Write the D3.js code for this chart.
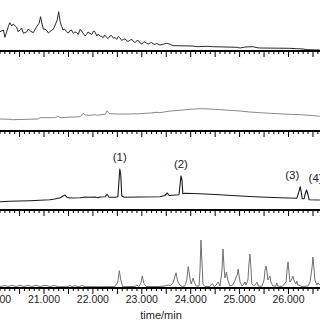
<!DOCTYPE html>
<html>
<head>
<meta charset="utf-8">
<script src="https://cdn.jsdelivr.net/npm/d3@7"></script>
<style>
  html, body { margin: 0; padding: 0; background: #fff; }
  svg { display: block; font-family: "Liberation Sans", Arial, sans-serif; }
</style>
</head>
<body>
<svg id="chart"></svg>
<script>
const width = 320;
const height = 320;

// retention time (min), relative abundance
const trace1 = [
  [20.10, 38.6], [20.17, 42], [20.20, 27.4], [20.27, 48.6], [20.30, 56.6], [20.34, 50], [20.37, 54],
  [20.44, 47.4], [20.47, 38.6], [20.51, 42], [20.54, 46], [20.58, 35.4], [20.65, 38.6], [20.68, 44],
  [20.71, 40.6], [20.78, 36.6], [20.81, 42], [20.85, 48.6], [20.90, 55.4], [20.93, 68.6], [20.96, 54],
  [20.99, 43.4], [21.02, 44], [21.06, 40.6], [21.09, 36], [21.12, 38.6], [21.16, 42], [21.19, 43.4],
  [21.22, 50], [21.27, 62], [21.30, 78.6], [21.33, 58.6], [21.35, 52], [21.39, 42], [21.42, 44],
  [21.46, 38.6], [21.50, 36], [21.53, 40.6], [21.56, 42], [21.60, 35.4], [21.63, 38], [21.67, 36.6],
  [21.70, 33], [21.74, 43.4], [21.77, 40], [21.80, 35.4], [21.84, 30], [21.87, 33.4], [21.90, 38],
  [21.94, 35.4], [21.98, 33], [22.01, 40], [22.04, 38.6], [22.08, 30], [22.11, 34], [22.14, 30],
  [22.18, 29], [22.21, 26.6], [22.24, 32], [22.28, 27.4], [22.31, 25], [22.35, 30], [22.38, 31],
  [22.42, 25.4], [22.45, 27], [22.49, 23.4], [22.52, 29], [22.55, 26.6], [22.59, 21], [22.62, 23.4],
  [22.66, 24], [22.69, 20.6], [22.72, 19], [22.76, 22], [22.80, 23], [22.83, 18.6], [22.86, 17],
  [22.90, 20.6], [22.93, 21], [22.96, 16.6], [23.00, 14], [23.03, 17.4], [23.06, 18], [23.10, 15.4],
  [23.13, 14], [23.17, 16], [23.20, 17], [23.23, 14.6], [23.27, 13], [23.30, 15.4], [23.37, 12],
  [23.43, 13.4], [23.51, 15.4], [23.58, 13.4], [23.64, 10.6], [24.05, 10], [24.13, 8.6], [24.35, 9.4],
  [24.46, 8.6], [24.95, 7.4], [25.01, 6], [25.11, 8], [25.27, 8.6], [25.36, 6.6], [25.42, 6],
  [26.03, 5.4], [26.17, 4.6], [26.30, 4], [26.38, 2.6], [26.64, 2]
];

const trace2 = [
  [20.10, 24], [20.30, 23.4], [20.35, 22.6], [20.88, 24], [20.92, 26.6], [21.22, 26.6], [21.29, 29.4],
  [21.33, 26.6], [21.47, 27.4], [21.74, 28.6], [21.80, 35.4], [21.84, 32], [21.94, 31.4], [22.04, 32.6],
  [22.08, 31.4], [22.25, 33.4], [22.29, 40.6], [22.33, 34.6], [22.49, 34], [22.76, 34], [22.96, 34.6],
  [23.17, 36], [23.31, 37.4], [23.37, 36.6], [23.58, 40], [23.78, 41.4], [23.99, 43.4], [24.19, 44.6],
  [24.39, 44], [24.60, 42.6], [25.01, 40], [25.21, 38], [25.42, 36.6], [25.62, 35.4], [26.03, 33.4],
  [26.24, 32.6], [26.44, 31.4], [26.64, 29.4]
];

const trace3 = [
  [20.10, 16.6], [20.30, 17.4], [20.71, 18.6], [21.12, 20.6], [21.22, 22], [21.33, 24.6], [21.39, 28],
  [21.43, 30], [21.47, 25.4], [21.53, 24], [21.74, 24.6], [21.84, 26], [21.90, 25.4], [22.04, 26],
  [22.10, 24.6], [22.14, 26], [22.25, 26.6], [22.29, 31.4], [22.33, 25.4], [22.45, 25.4], [22.51, 26.6],
  [22.53, 54], [22.55, 82], [22.57, 70], [22.59, 28], [22.64, 25.4], [22.96, 26], [23.37, 26.6],
  [23.47, 29], [23.52, 34], [23.56, 29], [23.76, 30.6], [23.78, 48], [23.80, 68], [23.82, 60],
  [23.84, 32.6], [23.88, 33.4], [24.19, 32.6], [24.60, 30.6], [25.01, 28], [25.42, 26], [25.83, 24.6],
  [26.17, 23.4], [26.21, 36], [26.24, 46.6], [26.26, 36], [26.28, 22.6], [26.32, 22.6], [26.34, 32],
  [26.37, 40], [26.40, 30], [26.42, 20.6], [26.64, 20]
];

const trace4 = [
  [20.10, 3], [20.20, 5], [20.26, 3], [20.35, 5.4], [20.43, 3], [20.51, 5.4], [20.59, 3], [20.67, 5.4],
  [20.75, 3], [20.84, 5.4], [20.92, 3], [21.02, 5.4], [21.12, 3], [21.22, 5], [21.29, 2.6], [21.49, 2.6],
  [21.53, 5], [21.57, 2.6], [21.63, 4.6], [21.70, 2.6], [21.78, 5], [21.84, 2.6], [22.14, 2.6],
  [22.45, 2.6], [22.51, 12], [22.54, 34.6], [22.57, 16], [22.61, 2.6], [22.86, 3], [22.90, 6],
  [22.94, 3], [22.98, 10], [23.01, 24], [23.04, 10], [23.09, 3], [23.37, 3], [23.47, 4], [23.54, 6],
  [23.58, 4], [23.64, 10], [23.68, 24], [23.70, 30.6], [23.72, 20], [23.74, 12], [23.78, 6], [23.82, 3],
  [23.88, 4], [23.92, 16], [23.95, 42.6], [23.99, 16], [24.01, 8], [24.03, 14], [24.05, 20], [24.07, 12],
  [24.11, 4], [24.17, 4], [24.19, 36], [24.21, 96], [24.23, 52], [24.25, 8], [24.29, 3], [24.39, 3],
  [24.44, 9], [24.48, 3], [24.52, 6], [24.56, 12], [24.60, 4], [24.64, 36], [24.66, 78], [24.68, 44],
  [24.70, 20], [24.73, 32], [24.76, 16], [24.80, 4], [24.86, 6], [24.91, 16], [24.93, 22], [24.95, 26],
  [24.97, 38], [24.99, 24], [25.01, 12], [25.05, 4], [25.09, 8], [25.11, 12], [25.13, 6], [25.17, 16],
  [25.19, 46], [25.21, 68], [25.23, 44], [25.25, 8], [25.29, 4], [25.33, 8], [25.36, 12], [25.38, 4],
  [25.46, 4], [25.50, 16], [25.52, 36], [25.54, 44], [25.56, 32], [25.58, 16], [25.60, 20], [25.62, 24],
  [25.64, 12], [25.68, 4], [25.74, 4], [25.76, 10], [25.78, 4], [25.87, 3], [25.95, 12], [25.97, 36],
  [25.99, 52], [26.01, 32], [26.03, 12], [26.07, 18], [26.09, 24], [26.11, 16], [26.15, 8], [26.17, 14],
  [26.19, 6], [26.28, 3], [26.40, 4], [26.44, 12], [26.48, 40], [26.50, 62], [26.52, 40], [26.54, 16],
  [26.58, 6], [26.60, 10], [26.64, 6]
];

const peakLabels = ["(1)", "(2)", "(3)", "(4)"];
const peakTimes = [22.55, 23.80, 26.24, 26.37];
const tickLabels = ["20.000", "21.000", "22.000", "23.000", "24.000", "25.000", "26.000"];
const axisTitle = "time/min";

const svg = d3.select("#chart").attr("width", width).attr("height", height);

const x = d3.scaleLinear().domain([20.1, 26.644]).range([0, 320]);

// panel baselines (axis line y) and line colours
const panels = [
  { data: trace1, axisY: 51, color: "#2a2a2a", width: 1 },
  { data: trace2, axisY: 131, color: "#8a8a8a", width: 1 },
  { data: trace3, axisY: 210, color: "#1a1a1a", width: 1.1 },
  { data: trace4, axisY: 288, color: "#707070", width: 1 }
];

const minorTicks = d3.range(200, 268).map(d => d / 10);

panels.forEach((p, i) => {
  const y = d3.scaleLinear().domain([0, 100]).range([p.axisY, p.axisY - 50]);
  p.y = y;

  const line = d3.line().x(d => x(d[0])).y(d => y(d[1]));
  svg.append("path")
    .datum(p.data)
    .attr("fill", "none")
    .attr("stroke", p.color)
    .attr("stroke-width", p.width)
    .attr("stroke-linejoin", "round")
    .attr("d", line);

  const g = svg.append("g");
  g.selectAll("line.minor")
    .data(minorTicks)
    .enter().append("line")
    .attr("x1", d => x(d)).attr("x2", d => x(d))
    .attr("y1", p.axisY)
    .attr("y2", d => p.axisY + (Math.abs(d * 2 - Math.round(d * 2)) < 1e-6 ? 6 : 3))
    .attr("stroke", "#000")
    .attr("stroke-width", 1);

  g.append("line")
    .attr("x1", 0).attr("x2", width)
    .attr("y1", p.axisY).attr("y2", p.axisY)
    .attr("stroke", "#000")
    .attr("stroke-width", 2);
});

// tick labels on the bottom panel only
svg.selectAll("text.tick")
  .data(tickLabels)
  .enter().append("text")
  .attr("x", d => x(+d))
  .attr("y", 303)
  .attr("text-anchor", "middle")
  .attr("font-size", 10.5)
  .attr("fill", "#222")
  .text(d => d);

svg.append("text")
  .attr("x", 161)
  .attr("y", 319)
  .attr("text-anchor", "middle")
  .attr("font-size", 11)
  .attr("fill", "#222")
  .text(axisTitle);

// peak labels on the third panel
const p3 = panels[2];
const labelDx = [0, 0, -8, 9];
peakLabels.forEach((lab, i) => {
  const t = peakTimes[i];
  const pt = trace3.find(d => Math.abs(d[0] - t) < 1e-6);
  svg.append("text")
    .attr("x", x(t) + labelDx[i])
    .attr("y", p3.y(pt[1]) - 8)
    .attr("text-anchor", "middle")
    .attr("font-size", 11.5)
    .attr("fill", "#222")
    .text(lab);
});
</script>
</body>
</html>
